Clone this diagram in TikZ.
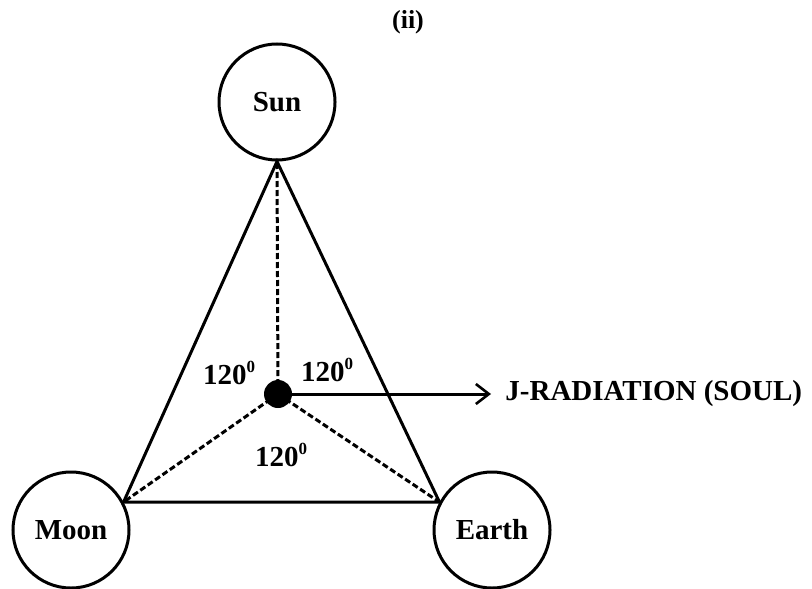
\documentclass[tikz,border=0pt]{standalone}
\usepackage{fontspec}
\setmainfont{Liberation Serif}
\usetikzlibrary{positioning,arrows.meta}

\newcommand{\degsup}{\raisebox{0.42em}{\fontsize{8.5}{8.5}\selectfont 0}}

\tikzset{
  body/.style={draw,circle,line width=1.5pt,minimum size=58pt,inner sep=0pt,
    font=\fontsize{14.5}{17}\bfseries},
  lbl/.style={inner sep=0pt,font=\fontsize{14.5}{17}\bfseries},
  link/.style={line width=1.5pt},
  dashlink/.style={line width=1.5pt,dash pattern=on 3pt off 1.5pt}
}

\begin{document}
\begin{tikzpicture}[x=0.5pt,y=-0.5pt]
\useasboundingbox (0,0) rectangle (812,588);
\node[lbl,font=\fontsize{13}{15}\bfseries] (title) at (408,22) {(ii)};

\node[body] (sun) at (277,102) {Sun};
\node[body] (moon) at (71,530) {Moon};
\node[body] (earth) at (492,530) {Earth};
\node[circle,fill=black,minimum size=14pt,inner sep=0pt] (soul) at (278,394) {};

% outer triangle
\draw[link] (sun.south)--(moon.28)--(earth.152)--cycle;
% to the centre
\draw[dashlink] (soul.center)--(sun.south);
\draw[dashlink] (soul.center)--(moon.28);
\draw[dashlink] (soul.center)--(earth.152);

\coordinate (tip) at (491,394);
\draw[link,-{Straight Barb[length=6.5pt,width=10pt,line width=1.3pt]}] (soul)--(tip);
\node[lbl,right=7pt of tip] (jrad) {J-RADIATION (SOUL)};

\node[lbl] (angl) at (229,373) {120\degsup};
\node[lbl] (angr) at (327,370) {120\degsup};
\node[lbl] (angb) at (281,455) {120\degsup};
\end{tikzpicture}
\end{document}
